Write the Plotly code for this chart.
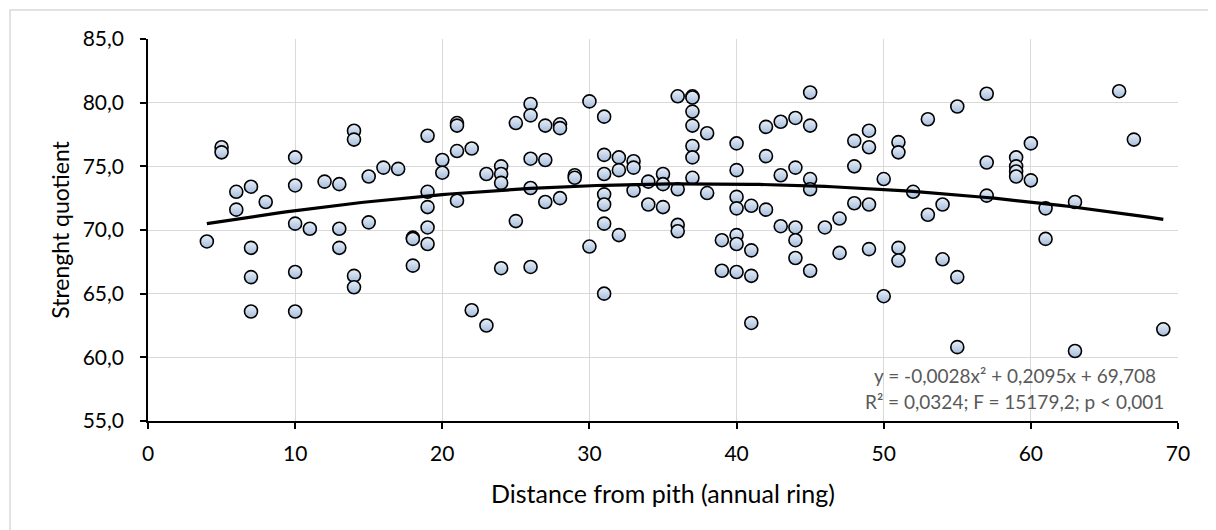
import plotly.graph_objects as go

# ---- data (distance from pith, strength quotient) ----
distance = [
    4, 5, 5, 6, 6, 7, 7, 7, 7, 8,
    10, 10, 10, 10, 10, 11, 12, 13, 13, 13,
    14, 14, 14, 14, 15, 15, 16, 17, 18, 18, 18,
    19, 19, 19, 19, 19, 20, 20, 21, 21, 21, 21,
    22, 22, 23, 23, 24, 24, 24, 24, 25, 25,
    26, 26, 26, 26, 26, 27, 27, 27, 28, 28, 28, 29, 29,
    30, 30, 31, 31, 31, 31, 31, 31, 31, 32, 32, 32,
    33, 33, 33, 34, 34, 35, 35, 35, 36, 36, 36, 36,
    37, 37, 37, 37, 37, 37, 37, 38, 38, 39, 39,
    40, 40, 40, 40, 40, 40, 40, 41, 41, 41, 41,
    42, 42, 42, 43, 43, 43, 44, 44, 44, 44, 44,
    45, 45, 45, 45, 45, 46, 47, 47, 48, 48, 48,
    49, 49, 49, 49, 50, 50, 51, 51, 51, 51, 52, 53, 53,
    54, 54, 55, 55, 55, 57, 57, 57, 59, 59, 59, 59,
    60, 60, 61, 61, 63, 63, 66, 67, 69,
]
strength = [
    69.1, 76.5, 76.1, 73.0, 71.6, 73.4, 68.6, 66.3, 63.6, 72.2,
    75.7, 73.5, 70.5, 66.7, 63.6, 70.1, 73.8, 73.6, 70.1, 68.6,
    77.8, 77.1, 66.4, 65.5, 74.2, 70.6, 74.9, 74.8, 69.4, 69.3, 67.2,
    77.4, 73.0, 71.8, 70.2, 68.9, 75.5, 74.5, 78.4, 78.2, 76.2, 72.3,
    76.4, 63.7, 74.4, 62.5, 75.0, 74.4, 73.7, 67.0, 78.4, 70.7,
    79.9, 79.0, 75.6, 73.3, 67.1, 78.2, 75.5, 72.2, 78.3, 78.0, 72.5, 74.3, 74.1,
    80.1, 68.7, 78.9, 75.9, 74.4, 72.8, 72.0, 70.5, 65.0, 75.7, 74.7, 69.6,
    75.4, 74.9, 73.1, 73.8, 72.0, 74.4, 73.6, 71.8, 80.5, 73.2, 70.4, 69.9,
    80.5, 80.4, 79.3, 78.2, 76.6, 75.7, 74.1, 77.6, 72.9, 69.2, 66.8,
    76.8, 74.7, 72.6, 71.7, 69.6, 68.9, 66.7, 71.9, 68.4, 66.4, 62.7,
    78.1, 75.8, 71.6, 78.5, 74.3, 70.3, 78.8, 74.9, 70.2, 69.2, 67.8,
    80.8, 78.2, 74.0, 73.2, 66.8, 70.2, 70.9, 68.2, 77.0, 75.0, 72.1,
    77.8, 76.5, 72.0, 68.5, 74.0, 64.8, 76.9, 76.1, 68.6, 67.6, 73.0, 78.7, 71.2,
    72.0, 67.7, 79.7, 66.3, 60.8, 80.7, 75.3, 72.7, 75.7, 75.0, 74.6, 74.2,
    76.8, 73.9, 71.7, 69.3, 72.2, 60.5, 80.9, 77.1, 62.2,
]

# polynomial trendline coefficients as printed on the chart
trend_a, trend_b, trend_c = -0.0028, 0.2095, 69.708
trend_x_range = [4, 69]

x_ticks = [0, 10, 20, 30, 40, 50, 60, 70]
y_ticks = [55, 60, 65, 70, 75, 80, 85]

eq_line1 = "y = -0,0028x² + 0,2095x + 69,708"
eq_line2 = "R² = 0,0324; F = 15179,2; p < 0,001"

x_title = "Distance from pith (annual ring)"
y_title = "Strenght quotient"

# ---- figure ----
FONT = "Lato"
n_steps = 130
tx = [trend_x_range[0] + (trend_x_range[1] - trend_x_range[0]) * i / n_steps for i in range(n_steps + 1)]
ty = [trend_a * v * v + trend_b * v + trend_c for v in tx]

fig = go.Figure()
fig.add_trace(go.Scatter(
    x=distance, y=strength, mode="markers",
    marker=dict(size=13, color="#eaf0f8",
                gradient=dict(type="vertical", color="#a3bcdc"),
                line=dict(color="#000000", width=1.6)),
    showlegend=False, hoverinfo="x+y",
))
fig.add_trace(go.Scatter(
    x=tx, y=ty, mode="lines",
    line=dict(color="#000000", width=3.2),
    showlegend=False, hoverinfo="skip",
))

# the page body adds an 8px offset; sizes below compensate for it
OFF = 8
W, H = 1216 - OFF, 530 - OFF
L, R, T, B = 148 - OFF, 38, 39 - OFF, 109
pw, ph = W - L - R, H - T - B

fig.update_layout(
    template="none",
    width=W, height=H,
    margin=dict(l=L, r=R, t=T, b=B, pad=0),
    paper_bgcolor="white", plot_bgcolor="white",
    separators=", ",
    showlegend=False,
    font=dict(family=FONT, color="#000000", size=21),
    xaxis=dict(
        range=[0, 70], tickvals=x_ticks, ticktext=[str(v) for v in x_ticks],
        showgrid=True, gridcolor="#d9d9d9", gridwidth=1.3,
        showline=True, linecolor="#000000", linewidth=1.6,
        ticks="outside", ticklen=6, tickcolor="#000000", tickwidth=1.5,
        ticklabelstandoff=7,
        tickfont=dict(family=FONT, size=21, color="#000000"),
        title=dict(text=x_title, font=dict(family=FONT, size=25, color="#000000"), standoff=21),
        zeroline=False, fixedrange=True, automargin=False,
    ),
    yaxis=dict(
        range=[55, 85], tickvals=y_ticks, tickformat=".1f",
        showgrid=True, gridcolor="#d9d9d9", gridwidth=1.3,
        showline=True, linecolor="#000000", linewidth=1.6,
        ticks="outside", ticklen=6, tickcolor="#000000", tickwidth=1.5,
        ticklabelstandoff=12,
        tickfont=dict(family=FONT, size=21, color="#000000"),
        title=dict(text=y_title, font=dict(family=FONT, size=23, color="#000000"), standoff=7),
        zeroline=False, fixedrange=True, automargin=False,
    ),
)

# outer chart border (light gray, extending past right/bottom edges)
fig.add_shape(type="rect", xref="paper", yref="paper",
              x0=(10 - OFF - L) / pw, x1=(W + 20 - L) / pw,
              y0=-(H + 20 - T - ph) / ph, y1=(T + ph - (10 - OFF)) / ph,
              line=dict(color="#d9d9d9", width=1.5), layer="below")

cx = 58.9
fig.add_annotation(x=cx, y=58.6, xref="x", yref="y", text=eq_line1, showarrow=False,
                   xanchor="center", yanchor="middle",
                   font=dict(family=FONT, size=19, color="#595959"))
fig.add_annotation(x=cx, y=56.5, xref="x", yref="y", text=eq_line2, showarrow=False,
                   xanchor="center", yanchor="middle",
                   font=dict(family=FONT, size=19, color="#595959"))

fig.write_html("out.html")
